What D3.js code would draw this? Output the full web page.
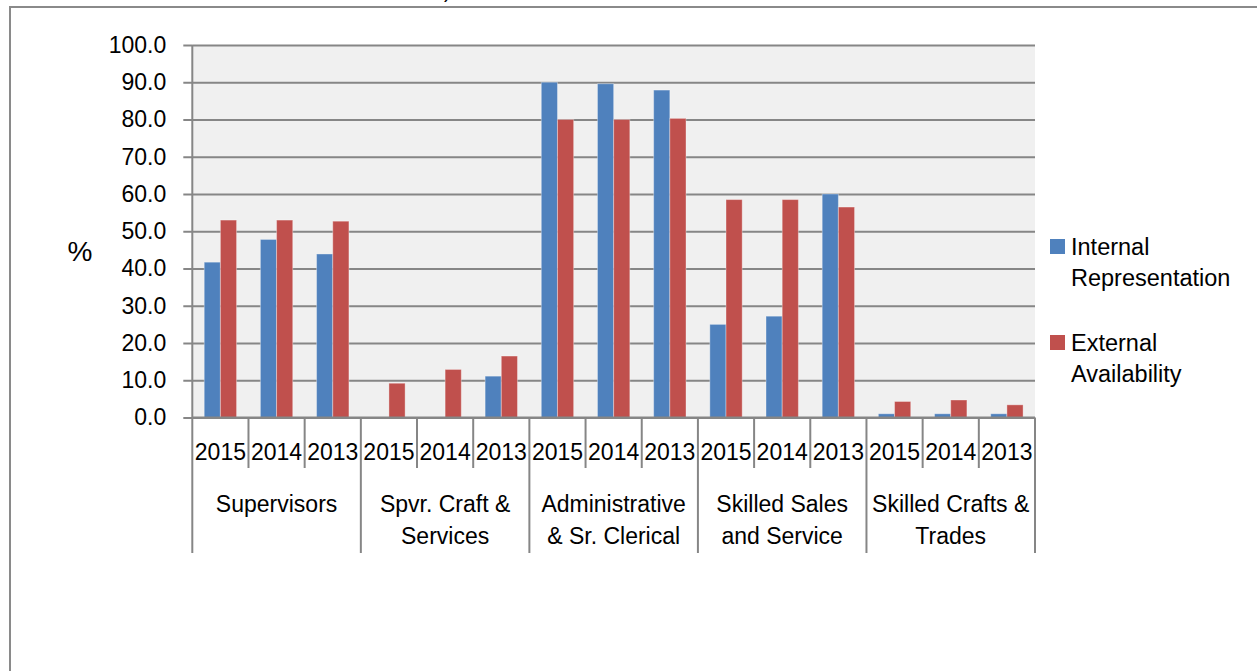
<!DOCTYPE html>
<html>
<head>
<meta charset="utf-8">
<script src="https://cdn.jsdelivr.net/npm/d3@7"></script>
<style>
  html, body { margin: 0; padding: 0; background: #fff; }
  svg { display: block; font-family: "Liberation Sans", Arial, sans-serif; }
</style>
</head>
<body>
<script>
// categories (two-line labels as in the original workbook)
var groupLabels = [
	["Supervisors"],
	["Spvr. Craft &", "Services"],
	["Administrative", "& Sr. Clerical"],
	["Skilled Sales", "and Service"],
	["Skilled Crafts &", "Trades"]
];
var years = ["2015", "2014", "2013"];
var seriesNames = ["Internal Representation", "External Availability"];
var legendLines = [["Internal", "Representation"], ["External", "Availability"]];

// values, one per group/year
var internalRep = [41.7, 47.8, 43.9,  0.0,  0.0, 11.1, 90.0, 89.6, 87.9, 25.0, 27.2, 60.0, 1.0, 1.0, 1.0];
var externalAv  = [53.0, 53.0, 52.7,  9.2, 12.9, 16.5, 80.0, 80.0, 80.3, 58.5, 58.5, 56.5, 4.3, 4.7, 3.4];

var yTicks = [0, 10, 20, 30, 40, 50, 60, 70, 80, 90, 100];
var colors = ["#4f81bd", "#c0504d"];

var width = 1257, height = 671;
var plot = {left: 192.3, right: 1035, top: 45, bottom: 417.5};
var lineCol = "#868686";

// build rows for the band scale
var rows = [];
groupLabels.forEach(function(g, gi) {
	years.forEach(function(yr, yi) {
		var k = gi * years.length + yi;
		rows.push({key: gi + "|" + yr, group: gi, year: yr, values: [internalRep[k], externalAv[k]]});
	});
});

var svg = d3.select("body").append("svg")
	.attr("width", width)
	.attr("height", height);

// outer chart frame (only the top and left edges are inside the photo)
svg.append("path")
	.attr("d", "M10,671 L10,7 L1257,7")
	.attr("fill", "none")
	.attr("stroke", "#8a8a8a")
	.attr("stroke-width", 2);

// clipped title descender above the frame
svg.append("text")
	.attr("x", 444)
	.attr("y", -2)
	.attr("font-size", 20)
	.text(")");

var x0 = d3.scaleBand()
	.domain(rows.map(function(d) { return d.key; }))
	.range([plot.left, plot.right])
	.paddingInner(0.424)
	.paddingOuter(0.212);

var x1 = d3.scaleBand()
	.domain([0, 1])
	.range([0, x0.bandwidth()]);

var y = d3.scaleLinear()
	.domain([0, 100])
	.range([plot.bottom, plot.top]);

// plot background
svg.append("rect")
	.attr("x", plot.left)
	.attr("y", plot.top)
	.attr("width", plot.right - plot.left)
	.attr("height", plot.bottom - plot.top)
	.attr("fill", "#f0f0f0");

// gridlines
var grid = svg.append("g")
	.attr("transform", "translate(" + plot.left + ",0)")
	.call(d3.axisLeft(y).tickValues(yTicks).tickSize(-(plot.right - plot.left)).tickFormat(""));
grid.select(".domain").remove();
grid.selectAll("line").attr("stroke", lineCol).attr("stroke-width", 2);

// y axis with labels
var yAxis = svg.append("g")
	.attr("transform", "translate(" + plot.left + ",0)")
	.call(d3.axisLeft(y).tickValues(yTicks).tickSize(9).tickPadding(17).tickFormat(d3.format(".1f")));
yAxis.select(".domain").remove();
yAxis.selectAll("line").attr("stroke", lineCol).attr("stroke-width", 2);
yAxis.selectAll("text")
	.attr("font-size", 23)
	.attr("font-family", "Liberation Sans, Arial, sans-serif")
	.attr("fill", "#000");

svg.append("line")
	.attr("x1", plot.left).attr("x2", plot.left)
	.attr("y1", plot.top).attr("y2", plot.bottom)
	.attr("stroke", lineCol).attr("stroke-width", 2);

// axis title
svg.append("text")
	.attr("x", 80)
	.attr("y", 261)
	.attr("text-anchor", "middle")
	.attr("font-size", 28)
	.text("%");

// bars
var slot = svg.append("g").selectAll("g")
	.data(rows)
	.enter().append("g")
	.attr("transform", function(d) { return "translate(" + x0(d.key) + ",0)"; });

slot.selectAll("rect")
	.data(function(d) { return d.values; })
	.enter().append("rect")
	.attr("x", function(d, i) { return x1(i); })
	.attr("y", function(d) { return y(d); })
	.attr("width", x1.bandwidth())
	.attr("height", function(d) { return y(0) - y(d); })
	.attr("fill", function(d, i) { return colors[i]; })
	.attr("stroke", "rgba(255,255,255,0.35)")
	.attr("stroke-width", 1);

// x axis line
svg.append("line")
	.attr("x1", plot.left).attr("x2", plot.right)
	.attr("y1", plot.bottom).attr("y2", plot.bottom)
	.attr("stroke", lineCol).attr("stroke-width", 2);

// category dividers: short between years, long between groups
var step = x0.step();
var bounds = d3.range(rows.length + 1);
svg.append("g").selectAll("line")
	.data(bounds)
	.enter().append("line")
	.attr("x1", function(i) { return plot.left + i * step; })
	.attr("x2", function(i) { return plot.left + i * step; })
	.attr("y1", plot.bottom)
	.attr("y2", function(i) { return i % years.length === 0 ? 553 : 468; })
	.attr("stroke", lineCol)
	.attr("stroke-width", 2);

// year labels
svg.append("g").selectAll("text")
	.data(rows)
	.enter().append("text")
	.attr("x", function(d) { return x0(d.key) + x0.bandwidth() / 2; })
	.attr("y", 460)
	.attr("text-anchor", "middle")
	.attr("font-size", 23)
	.text(function(d) { return d.year; });

// group labels
var gl = svg.append("g").selectAll("text")
	.data(groupLabels)
	.enter().append("text")
	.attr("text-anchor", "middle")
	.attr("font-size", 23)
	.attr("transform", function(d, gi) {
		return "translate(" + (plot.left + (gi + 0.5) * years.length * step) + ",0)";
	});
gl.selectAll("tspan")
	.data(function(d) { return d; })
	.enter().append("tspan")
	.attr("x", 0)
	.attr("y", function(d, i) { return 512 + i * 31.5; })
	.text(function(d) { return d; });

// legend
var leg = svg.append("g").selectAll("g")
	.data(seriesNames)
	.enter().append("g")
	.attr("transform", function(d, i) { return "translate(1050," + (239 + i * 96) + ")"; });
leg.append("rect")
	.attr("width", 15)
	.attr("height", 15)
	.attr("fill", function(d, i) { return colors[i]; });
leg.append("text")
	.attr("font-size", 23.5)
	.selectAll("tspan")
	.data(function(d, i) { return legendLines[i]; })
	.enter().append("tspan")
	.attr("x", 21)
	.attr("y", function(d, i) { return 16 + i * 31; })
	.text(function(d) { return d; });
</script>
</body>
</html>
